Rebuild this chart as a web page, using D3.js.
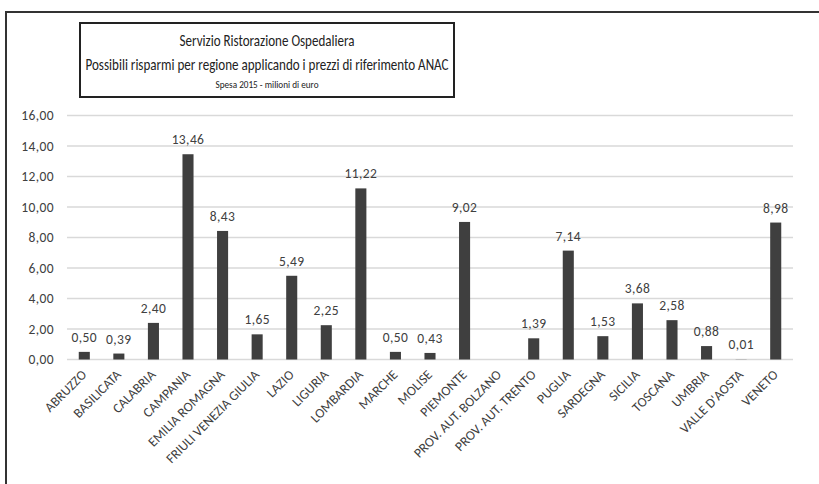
<!DOCTYPE html>
<html><head><meta charset="utf-8">
<script src="https://cdn.jsdelivr.net/npm/d3@7"></script>
<style>body{margin:0;background:#fff}svg{display:block}text{font-family:Carlito,Lato,'Open Sans',sans-serif}</style>
</head><body><svg id="c" width="819" height="484"></svg>
<script>
const categories = ["ABRUZZO","BASILICATA","CALABRIA","CAMPANIA","EMILIA ROMAGNA","FRIULI VENEZIA GIULIA","LAZIO","LIGURIA","LOMBARDIA","MARCHE","MOLISE","PIEMONTE","PROV. AUT. BOLZANO","PROV. AUT. TRENTO","PUGLIA","SARDEGNA","SICILIA","TOSCANA","UMBRIA","VALLE D'AOSTA","VENETO"];
const values = [0.50,0.39,2.40,13.46,8.43,1.65,5.49,2.25,11.22,0.50,0.43,9.02,null,1.39,7.14,1.53,3.68,2.58,0.88,0.01,8.98];
const yTicks = [0,2,4,6,8,10,12,14,16];
const titleLines = ["Servizio Ristorazione Ospedaliera","Possibili risparmi per regione applicando i prezzi di riferimento ANAC"];
const subtitle = "Spesa 2015 - milioni di euro";

const svg = d3.select("#c");
const fmt = v => d3.format(".2f")(v).replace(".", ",");
const ink = "#404040";

// outer frame (top and left edges visible)
svg.append("path").attr("d","M6,520 L6,12 L830,12")
  .attr("fill","none").attr("stroke","#333").attr("stroke-width",2);

// title box
svg.append("rect").attr("x",80).attr("y",23).attr("width",374).attr("height",74)
  .attr("fill","#fff").attr("stroke","#222").attr("stroke-width",2);
svg.append("text").attr("x",267).attr("y",46).attr("text-anchor","middle")
  .attr("font-size",17).attr("fill","#222").attr("textLength",175).attr("lengthAdjust","spacingAndGlyphs").text(titleLines[0]);
svg.append("text").attr("x",267).attr("y",70).attr("text-anchor","middle")
  .attr("font-size",17).attr("fill","#222").attr("textLength",363).attr("lengthAdjust","spacingAndGlyphs").text(titleLines[1]);
svg.append("text").attr("x",267).attr("y",88).attr("text-anchor","middle")
  .attr("font-size",10.5).attr("fill","#222").attr("textLength",103).attr("lengthAdjust","spacingAndGlyphs").text(subtitle);

const x = d3.scaleBand().domain(categories).range([67,793]).paddingInner(0.68).paddingOuter(0.34);
const y = d3.scaleLinear().domain([0,16]).range([359.5,115.5]);

// grid
svg.append("g").selectAll("line").data(yTicks).join("line")
  .attr("x1",67).attr("x2",793).attr("y1",d=>y(d)).attr("y2",d=>y(d))
  .attr("stroke","#d9d9d9").attr("stroke-width",1.3);

// y axis labels
const yAxis = d3.axisLeft(y).tickValues(yTicks).tickFormat(fmt).tickSize(0).tickPadding(0);
const gy = svg.append("g").attr("transform","translate(54,0)").call(yAxis);
gy.select(".domain").remove();
gy.selectAll("text").attr("font-size",13.5).attr("letter-spacing",0.4).attr("fill",ink).attr("font-family",null);

const data = categories.map((c,i)=>({c,v:values[i]})).filter(d=>d.v!=null);
// bars
svg.append("g").selectAll("rect").data(data)
  .join("rect").attr("x",d=>x(d.c)).attr("width",x.bandwidth())
  .attr("y",d=>y(d.v)).attr("height",d=>y(0)-y(d.v)).attr("fill","#3f3f3f");

// value labels
svg.append("g").selectAll("text").data(data)
  .join("text").attr("x",d=>x(d.c)+x.bandwidth()/2).attr("y",d=>y(d.v)-10)
  .attr("text-anchor","middle").attr("font-size",13.5).attr("letter-spacing",0.4).attr("fill",ink).text(d=>fmt(d.v));

// x axis
const xAxis = d3.axisBottom(x).tickSize(0).tickPadding(0);
const gx = svg.append("g").attr("transform","translate(0,"+y(0)+")").call(xAxis);
gx.select(".domain").remove();
gx.selectAll("text").attr("font-family",null).attr("font-size",13.5).attr("fill",ink)
  .attr("text-anchor","end").attr("dy",0).attr("y",0)
  .attr("transform","translate(3,16) rotate(-45)");
</script></body></html>
